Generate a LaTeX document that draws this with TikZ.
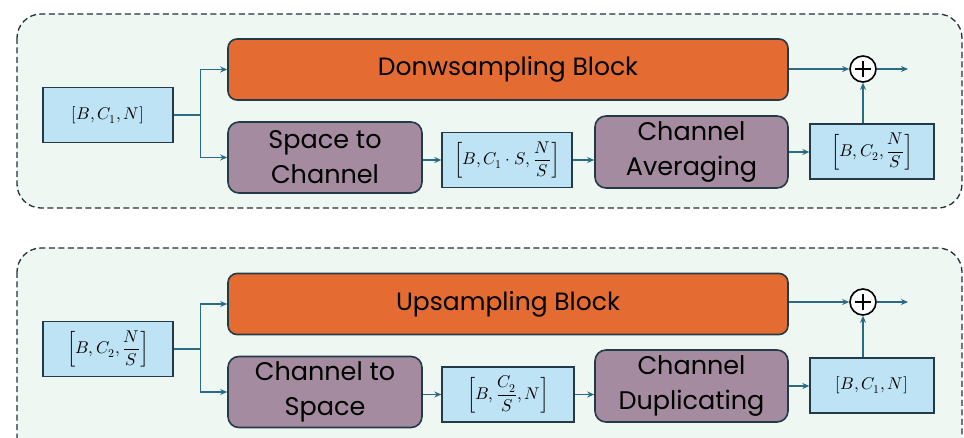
\documentclass[tikz,border=0pt]{standalone}
\usepackage{amsmath}
\usepackage{fontspec}
\usepackage{unicode-math}
\setmainfont{Poppins}
\setmathfont{Latin Modern Math}
\usetikzlibrary{arrows.meta,calc}

\definecolor{panelfill}{HTML}{EEF7F1}
\definecolor{panelline}{HTML}{22313A}
\definecolor{darkline}{HTML}{243A46}
\definecolor{blockorange}{HTML}{E46C32}
\definecolor{mauve}{HTML}{A48B9F}
\definecolor{shapeblue}{HTML}{BEE3F5}
\definecolor{arrowteal}{HTML}{2B6A85}

\tikzset{
  panel/.style={draw=panelline, dash pattern=on 6pt off 3.5pt, line width=1.3pt,
    fill=panelfill, rounded corners=24pt},
  shapebox/.style={draw=darkline, line width=1.3pt, fill=shapeblue, inner sep=0pt,
    minimum height=55pt, font=\fontsize{17}{20}\selectfont},
  orangeblk/.style={draw=darkline, line width=1.6pt, fill=blockorange, rounded corners=9pt,
    minimum width=560pt, minimum height=61pt, inner sep=0pt,
    font=\fontsize{25}{30}\selectfont},
  purpleblk/.style={draw=darkline, line width=1.6pt, fill=mauve, rounded corners=11pt,
    minimum height=72pt, inner sep=0pt, align=center,
    font=\fontsize{25.5}{35}\selectfont},
  sumnode/.style={circle, draw=black, line width=1.6pt, fill=white, minimum size=26pt,
    inner sep=0pt,
    path picture={\draw[line width=2.6pt]
      ($(path picture bounding box.center)+(-8pt,0)$) -- ($(path picture bounding box.center)+(8pt,0)$)
      ($(path picture bounding box.center)+(0,-8pt)$) -- ($(path picture bounding box.center)+(0,8pt)$);}},
  flow/.style={draw=arrowteal, line width=1.4pt, -{Stealth[length=7pt,width=6pt]}},
}

\begin{document}
\begin{tikzpicture}[x=1pt,y=-1pt]
\useasboundingbox (0,0) rectangle (964,438);
\fill[white] (0,0) rectangle (964,438);

% ---------- downsampling path ----------
\draw[panel] (17,14) rectangle (962,208);

\node[shapebox, minimum width=130pt] (din) at (108,115) {$[B, C_1, N]$};
\node[orangeblk] (dblk) at (508,69.5) {Donwsampling Block};
\node[purpleblk, minimum width=194pt, minimum height=71pt] (ds2c) at (325,157.5) {Space to\\Channel};
\node[shapebox, minimum width=130pt] (dmid) at (507,160) {$\left[B, C_1\cdot S, \dfrac{N}{S}\right]$};
\node[purpleblk, minimum width=193pt] (davg) at (691.5,152) {Channel\\Averaging};
\node[shapebox, minimum width=124pt] (dout) at (872,151.5) {$\left[B, C_2, \dfrac{N}{S}\right]$};
\node[sumnode] (dsum) at (863,69) {};
\coordinate (dend) at (908,69);

\draw[flow] (din.east) -- ++(27,0) |- (dblk.west);
\draw[flow] (din.east) -- ++(27,0) |- (ds2c.west);
\draw[flow] (dmid.west -| ds2c.east) -- (dmid.west);
\draw[flow] (dmid.east) -- (dmid.east -| davg.west);
\draw[flow] (davg.east) -- (davg.east -| dout.west);
\draw[flow] (dblk.east |- dsum) -- (dsum.west);
\draw[flow] (dout.north -| dsum) -- (dsum.south);
\draw[flow] (dsum.east) -- (dend);

% ---------- upsampling path ----------
\draw[panel] (17,248) rectangle (962,480);

\node[shapebox, minimum width=130pt] (uin) at (108,349) {$\left[B, C_2, \dfrac{N}{S}\right]$};
\node[orangeblk] (ublk) at (508,304) {Upsampling Block};
\node[purpleblk, minimum width=194pt, minimum height=71pt] (uc2s) at (325,392) {Channel to\\Space};
\node[shapebox, minimum width=132pt] (umid) at (508,394.5) {$\left[B, \dfrac{C_2}{S}, N\right]$};
\node[purpleblk, minimum width=193pt] (udup) at (691.5,386) {Channel\\Duplicating};
\node[shapebox, minimum width=124pt] (uout) at (872,385.5) {$[B, C_1, N]$};
\node[sumnode] (usum) at (863,302) {};
\coordinate (uend) at (908,302);

\draw[flow] (uin.east) -- ++(27,0) |- (ublk.west);
\draw[flow] (uin.east) -- ++(27,0) |- (uc2s.west);
\draw[flow] (umid.west -| uc2s.east) -- (umid.west);
\draw[flow] (umid.east) -- (umid.east -| udup.west);
\draw[flow] (udup.east) -- (udup.east -| uout.west);
\draw[flow] (ublk.east |- usum) -- (usum.west);
\draw[flow] (uout.north -| usum) -- (usum.south);
\draw[flow] (usum.east) -- (uend);
\end{tikzpicture}
\end{document}
